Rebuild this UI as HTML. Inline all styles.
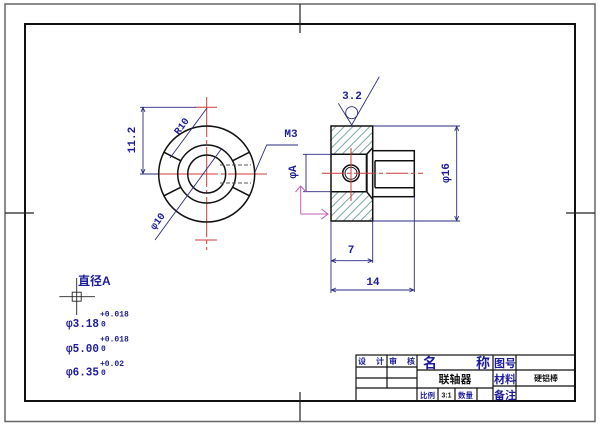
<!DOCTYPE html>
<html><head><meta charset="utf-8"><style>
html,body{margin:0;padding:0;background:#fff;}
svg{display:block;}
.t{font-family:"Liberation Mono","DejaVu Sans Mono",monospace;font-weight:bold;fill:#1c1c9c;}
.c{font-family:"Liberation Sans","Noto Sans CJK SC",sans-serif;font-weight:bold;}
</style></head><body>
<svg width="600" height="426" viewBox="0 0 600 426" xmlns="http://www.w3.org/2000/svg">
<defs>
<pattern id="h" patternUnits="userSpaceOnUse" width="6" height="6" patternTransform="rotate(-45)">
<line x1="0" y1="3" x2="6" y2="3" stroke="#6f9c9c" stroke-width="0.9"/>
</pattern>
</defs>
<rect width="600" height="426" fill="#fff"/>
<!-- borders -->
<rect x="5" y="4" width="590" height="417.5" fill="none" stroke="#666" stroke-width="1.5"/>
<rect x="25" y="24" width="550" height="377" fill="none" stroke="#111" stroke-width="2"/>
<g stroke="#222" stroke-width="1.2">
<line x1="300" y1="4" x2="300" y2="33"/>
<line x1="300" y1="392" x2="300" y2="421"/>
<line x1="5" y1="213" x2="34" y2="213"/>
<line x1="566" y1="213" x2="595" y2="213"/>
</g>

<!-- FRONT VIEW -->
<g stroke="#d23a3a" stroke-width="1" fill="none">
<line x1="206.7" y1="97" x2="206.7" y2="250" stroke-dasharray="40 3 4 3"/>
<line x1="158" y1="174" x2="267" y2="174" stroke-dasharray="60 3 4 3"/>
<line x1="195" y1="107.3" x2="217" y2="107.3"/>
<line x1="195" y1="240" x2="217" y2="240"/>
</g>
<g stroke="#111" stroke-width="1.5" fill="none">
<circle cx="206.7" cy="174" r="48"/>
<circle cx="206.7" cy="174" r="29"/>
<circle cx="206.7" cy="174" r="19"/>
<line x1="180.9" y1="160.8" x2="163.9" y2="152.2"/>
<line x1="232.5" y1="160.8" x2="249.5" y2="152.2"/>
<line x1="180.9" y1="187.2" x2="163.9" y2="195.8"/>
<line x1="232.5" y1="187.2" x2="249.5" y2="195.8"/>
</g>
<g stroke="#555" stroke-width="1" stroke-dasharray="4 2">
<line x1="220" y1="165" x2="251" y2="165"/>
<line x1="220" y1="183" x2="251" y2="183"/>
</g>
<g stroke="#2a2a80" stroke-width="0.9" fill="none">
<line x1="140" y1="107.3" x2="196" y2="107.3"/>
<line x1="140" y1="174" x2="158" y2="174"/>
<line x1="143" y1="107.3" x2="143" y2="174"/>
<polyline points="141,112 143,107.5 145,112"/>
<polyline points="141,169 143,173.5 145,169"/>
<line x1="207" y1="108" x2="170" y2="158"/>
<line x1="222" y1="148" x2="155" y2="240"/>
<polyline points="255,172 266.7,145 298,145"/>
</g>
<text class="t" font-size="11" transform="translate(135,140) rotate(-90)" text-anchor="middle">11.2</text>
<text class="t" font-size="10" transform="translate(184,128) rotate(-53.5)" text-anchor="middle">R10</text>
<text class="t" font-size="10" transform="translate(160,223) rotate(-54)" text-anchor="middle">φ10</text>
<text class="t" font-size="11" x="291" y="137" text-anchor="middle">M3</text>

<!-- SIDE VIEW -->
<path d="M331,126 L372.7,126 L372.7,147.7 L366.7,154.3 L331,154.3 Z" fill="url(#h)"/>
<path d="M331,191.7 L366.7,191.7 L372.7,199.3 L372.7,221 L331,221 Z" fill="url(#h)"/>
<g stroke="#111" stroke-width="1.5" fill="none">
<rect x="331" y="126" width="41.7" height="95"/>
<line x1="331" y1="154.3" x2="366.7" y2="154.3"/>
<line x1="331" y1="191.7" x2="366.7" y2="191.7"/>
<line x1="366.7" y1="154.3" x2="372.7" y2="147.7"/>
<line x1="366.7" y1="191.7" x2="372.7" y2="199.3"/>
<line x1="366.7" y1="154.3" x2="366.7" y2="191.7" stroke-width="2"/>
<rect x="372.7" y="150.7" width="41.6" height="46" fill="#fff"/>
<line x1="375" y1="160.7" x2="414.3" y2="160.7"/>
<line x1="375" y1="187.7" x2="414.3" y2="187.7"/>
<line x1="375" y1="160.7" x2="375" y2="187.7"/>
<circle cx="351" cy="173.3" r="8.3" fill="#fff"/>
<circle cx="351" cy="173.3" r="6" stroke-width="1"/>
</g>
<g stroke="#d23a3a" stroke-width="1" fill="none">
<line x1="322" y1="173.3" x2="423" y2="173.3" stroke-dasharray="22 3 4 3"/>
<line x1="351" y1="148" x2="351" y2="201"/>
</g>
<!-- roughness -->
<g stroke="#2a2a80" stroke-width="0.9" fill="none">
<polyline points="338.3,103.3 351.7,125 379.3,76.7"/>
<circle cx="351.7" cy="112.7" r="6"/>
</g>
<text class="t" font-size="11" x="352" y="99" text-anchor="middle">3.2</text>
<!-- dims side -->
<g stroke="#2a2a80" stroke-width="0.9" fill="none">
<line x1="372.7" y1="126" x2="460" y2="126"/>
<line x1="372.7" y1="221" x2="460" y2="221"/>
<line x1="456.7" y1="126" x2="456.7" y2="221"/>
<polyline points="454.7,131 456.7,126.5 458.7,131"/>
<polyline points="454.7,216 456.7,220.5 458.7,216"/>
<line x1="303" y1="154.3" x2="331" y2="154.3"/>
<line x1="303" y1="191.7" x2="331" y2="191.7"/>
<line x1="306" y1="154.3" x2="306" y2="191.7"/>
<line x1="331" y1="221" x2="331" y2="293"/>
<line x1="372.7" y1="221" x2="372.7" y2="263"/>
<line x1="414.3" y1="196.7" x2="414.3" y2="292"/>
<line x1="331" y1="260.7" x2="372.7" y2="260.7"/>
<polyline points="336,258.7 331.5,260.7 336,262.7"/>
<polyline points="367.7,258.7 372.2,260.7 367.7,262.7"/>
<line x1="331" y1="290" x2="414.3" y2="290"/>
<polyline points="336,288 331.5,290 336,292"/>
<polyline points="409.3,288 413.8,290 409.3,292"/>
</g>
<text class="t" font-size="11" transform="translate(449,173) rotate(-90)" text-anchor="middle">φ16</text>
<text class="t" font-size="11" transform="translate(296,172) rotate(-90)" text-anchor="middle">φA</text>
<text class="t" font-size="11" x="351" y="253" text-anchor="middle">7</text>
<text class="t" font-size="11" x="373" y="285" text-anchor="middle">14</text>
<!-- UCS -->
<g stroke="#c25ec2" stroke-width="1" fill="none">
<line x1="300.7" y1="186" x2="300.7" y2="214"/>
<polyline points="295.5,192 300.7,186 306,192"/>
<line x1="300.7" y1="214" x2="328" y2="214"/>
<polyline points="321.5,209 328,214 321.5,219"/>
</g>

<!-- bottom-left notes -->
<text class="c" font-size="12" x="78" y="285" fill="#1c1c9c">直径A</text>
<g stroke="#222" stroke-width="0.9" fill="none">
<line x1="76.7" y1="278" x2="76.7" y2="315"/>
<line x1="59.3" y1="296.7" x2="95" y2="296.7"/>
<rect x="72.2" y="292.2" width="9" height="9"/>
</g>
<g class="t">
<text font-size="12" x="66" y="327" textLength="33" lengthAdjust="spacingAndGlyphs">φ3.18</text>
<text font-size="8" x="100" y="316.5">+0.018</text>
<text font-size="8" x="101" y="326.5">0</text>
<text font-size="12" x="66" y="352" textLength="33" lengthAdjust="spacingAndGlyphs">φ5.00</text>
<text font-size="8" x="100" y="341.5">+0.018</text>
<text font-size="8" x="101" y="351">0</text>
<text font-size="12" x="66" y="375.5" textLength="33" lengthAdjust="spacingAndGlyphs">φ6.35</text>
<text font-size="8" x="100" y="366">+0.02</text>
<text font-size="8" x="101" y="375">0</text>
</g>

<!-- TITLE BLOCK -->
<g stroke="#111" stroke-width="1.2" fill="none">
<rect x="356" y="355" width="219" height="46"/>
<line x1="417" y1="355" x2="417" y2="401"/>
<line x1="493" y1="355" x2="493" y2="401"/>
<line x1="516" y1="355" x2="516" y2="401"/>
<line x1="387" y1="355" x2="387" y2="388"/>
<line x1="356" y1="367" x2="417" y2="367"/>
<line x1="356" y1="378" x2="417" y2="378"/>
<line x1="356" y1="388" x2="493" y2="388"/>
<line x1="417" y1="370" x2="575" y2="370"/>
<line x1="493" y1="386" x2="575" y2="386"/>
<line x1="438" y1="388" x2="438" y2="401"/>
<line x1="455" y1="388" x2="455" y2="401"/>
<line x1="477" y1="388" x2="477" y2="401"/>
</g>
<g class="c" fill="#1c1c9c">
<text font-size="8" x="358" y="364">设</text>
<text font-size="8" x="376" y="364">计</text>
<text font-size="8" x="389" y="364">审</text>
<text font-size="8" x="407" y="364">核</text>
<text font-size="14" x="423" y="368">名</text>
<text font-size="14" x="476" y="368">称</text>
<text font-size="11" x="494" y="367">图号</text>
<text font-size="11" x="494" y="383">材料</text>
<text font-size="11" x="494" y="399">备注</text>
<text font-size="7.5" x="420" y="398">比例</text>
<text font-size="7.5" x="458" y="398">数量</text>
</g>
<g class="c" fill="#111">
<text font-size="11" x="455" y="383" text-anchor="middle">联轴器</text>
<text font-size="8" x="546" y="381" text-anchor="middle">硬铝棒</text>
<text font-size="7" x="446.5" y="397.5" text-anchor="middle">3:1</text>
</g>
</svg>
</body></html>
